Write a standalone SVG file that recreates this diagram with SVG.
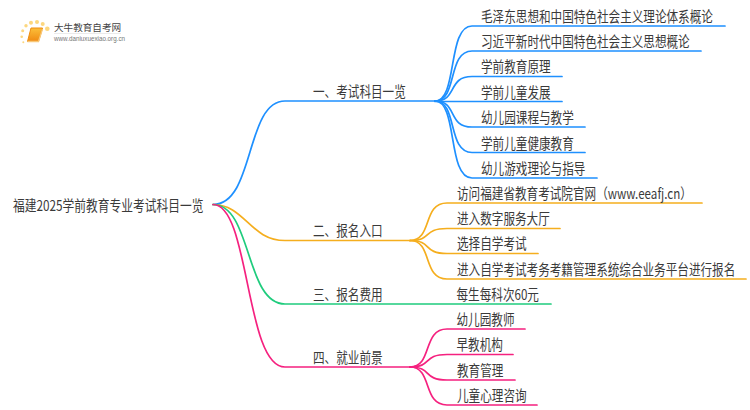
<svg xmlns="http://www.w3.org/2000/svg" width="750" height="410" viewBox="0 0 750 410">
<style>
text{font-family:"Noto Sans CJK SC","Noto Sans",sans-serif;font-size:14.5px;fill:#3a3a3a;}
.c{fill:none;stroke-width:1.700;stroke-linecap:round}
.b{stroke:#1e90ff}.o{stroke:#f5ae1e}.g{stroke:#1fcc7d}.p{stroke:#f5217f}
</style>
<defs><linearGradient id="bk" x1="0" y1="0" x2="0" y2="1"><stop offset="0" stop-color="#fbbf3a"/><stop offset="1" stop-color="#f08a12"/></linearGradient></defs>
<rect width="750" height="410" fill="#fff"/>
<g id="logo">
<g fill="#fcd77f"><circle cx="47.300" cy="28.700" r="2.300"/><circle cx="42.700" cy="24" r="2"/><circle cx="37" cy="22" r="2"/><circle cx="31" cy="22.700" r="2"/><circle cx="26" cy="25.700" r="1.700"/><circle cx="22.700" cy="30.700" r="1.500"/><circle cx="21.700" cy="36.700" r="1.300"/><circle cx="23.300" cy="42.300" r="1"/></g>
<path d="M31 28H42.500L38.500 41.500H27.500Z" fill="url(#bk)" stroke="#ee8c10" stroke-width="1"/>
<path d="M27.500 41.500H38.500L42.500 29" fill="none" stroke="#f8c878" stroke-width="1.300"/>
<text transform="translate(54 31)" style="font-size:9.600px;fill:#444">大牛教育自考网</text>
<path d="M54 33.500H121" stroke="#ddd" stroke-width="0.600"/>
<text transform="translate(54 41) scale(.98 1)" style="font-size:6.400px;fill:#777;font-family:'Liberation Sans',sans-serif">www.daniuxuexiao.org.cn</text>
</g>
<g id="connectors">
<path class="c b" d="M213 204.500C255 204.500 245 101 285 101H435"/>
<path class="c o" d="M213 204.500C245 204.500 250 240.500 285 240.500H410"/>
<path class="c g" d="M213 204.500C252 204.500 245 304 285 304H551"/>
<path class="c p" d="M213 204.500C250 204.500 245 367 285 367H410"/>
<path class="c b" d="M435 101C458 101 447 26 472 26H725"/>
<path class="c b" d="M435 101C458 101 447 51 472 51H701"/>
<path class="c b" d="M435 101C458 101 447 76.500 472 76.500H562"/>
<path class="c b" d="M435 101.500H562"/>
<path class="c b" d="M435 101C458 101 447 127 472 127H585"/>
<path class="c b" d="M435 101C458 101 447 152.500 472 152.500H585"/>
<path class="c b" d="M435 101C458 101 447 178 472 178H597"/>
<path class="c o" d="M410 240.500C433 240.500 422 203 447 203H702"/>
<path class="c o" d="M410 240.500C433 240.500 422 228.500 447 228.500H560"/>
<path class="c o" d="M410 240.500C433 240.500 422 253.500 447 253.500H538"/>
<path class="c o" d="M410 240.500C433 240.500 422 279 447 279H746"/>
<path class="c p" d="M410 367C433 367 422 329 447 329H525"/>
<path class="c p" d="M410 367C433 367 422 354.500 447 354.500H513"/>
<path class="c p" d="M410 367C433 367 422 380 447 380H515"/>
<path class="c p" d="M410 367C433 367 422 405 447 405H537"/>
</g>
<g id="root"><text transform="matrix(.81 0 0 1 13 211)">福建2025学前教育专业考试科目一览</text></g>
<g id="n1"><text transform="matrix(.8 0 0 1 313 97)">一、考试科目一览</text></g>
<g id="n1-1"><text transform="matrix(.8 0 0 1 481 21.500)">毛泽东思想和中国特色社会主义理论体系概论</text></g>
<g id="n1-2"><text transform="matrix(.8 0 0 1 481 47)">习近平新时代中国特色社会主义思想概论</text></g>
<g id="n1-3"><text transform="matrix(.8 0 0 1 481 72)">学前教育原理</text></g>
<g id="n1-4"><text transform="matrix(.8 0 0 1 481 97.500)">学前儿童发展</text></g>
<g id="n1-5"><text transform="matrix(.8 0 0 1 481 123)">幼儿园课程与教学</text></g>
<g id="n1-6"><text transform="matrix(.8 0 0 1 481 148.500)">学前儿童健康教育</text></g>
<g id="n1-7"><text transform="matrix(.8 0 0 1 481 173.500)">幼儿游戏理论与指导</text></g>
<g id="n2"><text transform="matrix(.8 0 0 1 313 236)">二、报名入口</text></g>
<g id="n2-1"><text transform="matrix(.8 0 0 1 457 198.500)">访问福建省教育考试院官网（www.eeafj.cn）</text></g>
<g id="n2-2"><text transform="matrix(.8 0 0 1 457 224)">进入数字服务大厅</text></g>
<g id="n2-3"><text transform="matrix(.8 0 0 1 457 249)">选择自学考试</text></g>
<g id="n2-4"><text transform="matrix(.8 0 0 1 457 274.500)">进入自学考试考务考籍管理系统综合业务平台进行报名</text></g>
<g id="n3"><text transform="matrix(.8 0 0 1 313 299.500)">三、报名费用</text></g>
<g id="n3-1"><text transform="matrix(.8 0 0 1 456.500 299.500)">每生每科次60元</text></g>
<g id="n4"><text transform="matrix(.8 0 0 1 313 362.500)">四、就业前景</text></g>
<g id="n4-1"><text transform="matrix(.8 0 0 1 456.500 324.500)">幼儿园教师</text></g>
<g id="n4-2"><text transform="matrix(.8 0 0 1 456.500 350)">早教机构</text></g>
<g id="n4-3"><text transform="matrix(.8 0 0 1 457 376)">教育管理</text></g>
<g id="n4-4"><text transform="matrix(.8 0 0 1 457 401)">儿童心理咨询</text></g>
</svg>
